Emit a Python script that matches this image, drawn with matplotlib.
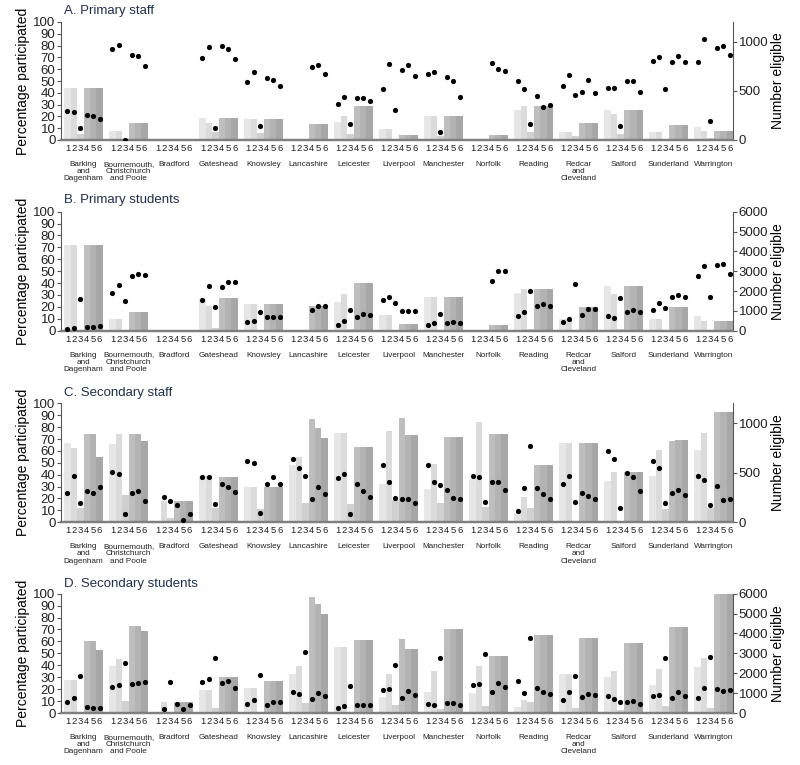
import matplotlib.pyplot as plt
import numpy as np

plt.rcParams['font.family'] = ['Liberation Sans', 'DejaVu Sans']

nan = np.nan

# local authorities and rounds
las = ['Barking\nand\nDagenham', 'Bournemouth,\nChristchurch\nand Poole', 'Bradford',
       'Gateshead', 'Knowsley', 'Lancashire', 'Leicester', 'Liverpool', 'Manchester',
       'Norfolk', 'Reading', 'Redcar\nand\nCleveland', 'Salford', 'Sunderland', 'Warrington']
rounds = ['1', '2', '3', '4', '5', '6']
titles = ['A. Primary staff', 'B. Primary students', 'C. Secondary staff', 'D. Secondary students']

# A. primary staff: percentage participated / number eligible
pct_a = [[44, 44, 5, 44, 44, 44], [8, 8, 0.5, 14, 14, 14], [nan] * 6,
         [19, 14, 7, 19, 19, 19], [18, 18, 6, 18, 18, 18], [nan, nan, nan, 13.5, 13.5, 13.5],
         [15, 20, 5, 28.5, 28.5, 28.5], [9, 9, nan, 4.5, 4.5, 4.5], [20, 20, 3.5, 20, 20, 20],
         [nan, nan, nan, 4.5, 4.5, 4.5], [25.5, 29, 7, 29, 29, 29], [7, 7, 3.5, 14, 14, 14],
         [25.5, 22, 5.5, 25.5, 25.5, 25.5], [7, 7, nan, 12.5, 12.5, 12.5], [11, 7.5, 2, 7.5, 7.5, 7.5]]
elig_a = [[300, 288, 117, 251, 247, 217], [930, 970, 3, 863, 853, 749], [nan] * 6,
          [833, 950, 127, 953, 923, 819], [585, 696, 147, 635, 612, 552], [nan, nan, nan, 742, 763, 676],
          [371, 435, 167, 431, 428, 401], [518, 776, 304, 716, 759, 652], [676, 693, 83, 636, 595, 438],
          [nan, nan, nan, 786, 723, 699], [599, 518, 161, 445, 334, 351], [552, 656, 458, 488, 609, 478],
          [525, 532, 147, 595, 595, 488], [800, 846, 515, 796, 853, 790], [790, 1027, 194, 934, 960, 866]]

# B. primary students
pct_b = [[72, 72, nan, 72, 72, 72], [9.5, 9.5, 0.5, 15.5, 15.5, 15.5], [nan] * 6,
         [27, 20.5, 2, 27.5, 27.5, 27.5], [22.5, 22.5, nan, 22.5, 22.5, 22.5], [nan, nan, nan, 20.5, 20.5, 20.5],
         [24, 30.5, 1.5, 40, 40, 40], [13, 13, nan, 6, 6, 6], [28, 28, nan, 28, 28, 28],
         [nan, nan, nan, 4.5, 4.5, 4.5], [32, 35, 1.5, 35, 35, 35], [9.5, 9.5, nan, 19.5, 19.5, 19.5],
         [37.5, 30.5, 1.5, 37.5, 37.5, 37.5], [10, 10, nan, 19.5, 19.5, 19.5], [12, 8.5, nan, 8.5, 8.5, 8.5]]
elig_b = [[70, 135, 1610, 185, 185, 215], [1900, 2300, 1500, 2760, 2840, 2820], [nan] * 6,
          [1530, 2240, 1210, 2190, 2440, 2440], [440, 500, 940, 670, 670, 670], [nan, nan, nan, 1030, 1240, 1240],
          [300, 490, 1030, 690, 820, 810], [1550, 1680, 1380, 990, 975, 975], [300, 390, 820, 400, 450, 370],
          [nan, nan, nan, 2520, 2990, 2990], [720, 960, 1980, 1240, 1330, 1240], [450, 570, 2340, 770, 1080, 1080],
          [760, 660, 1650, 960, 1060, 940], [1030, 1400, 1160, 1700, 1820, 1710], [2740, 3240, 1710, 3310, 3360, 2840]]

# C. secondary staff
pct_c = [[67, 62.5, 12, 74.5, 74.5, 55], [66, 74, 23, 74.5, 74.5, 68], [nan, 18, 3.5, 18, 18, 18],
         [38.5, 38.5, 12, 38, 38, 38], [30, 30, 11, 30, 30, 30], [48.5, 55, 16, 87, 79, 71],
         [75, 75, 15, 63.5, 63.5, 63.5], [32, 77, 19, 88, 73, 73], [28, 49, 16.5, 71.5, 71.5, 71.5],
         [36, 84, 13, 74, 74, 74], [7.5, 21.5, 12, 48, 48, 48], [67, 67, nan, 67, 67, 67],
         [34.5, 42.5, nan, 42.5, 42.5, 42.5], [39, 61, 11.5, 68.5, 69.5, 69.5], [60.5, 75, 12, 93, 93, 93]]
elig_c = [[297, 470, 197, 317, 300, 353], [510, 490, 83, 300, 313, 213], [nan, 260, 210, 173, 20, 87],
          [457, 460, 183, 390, 357, 303], [623, 597, 97, 387, 457, 387], [643, 550, 470, 240, 357, 290],
          [447, 487, 80, 387, 320, 257], [580, 410, 247, 233, 230, 190], [580, 403, 380, 330, 250, 237],
          [470, 453, 207, 403, 403, 327], [113, 347, 770, 343, 290, 240], [390, 467, 200, 300, 267, 230],
          [723, 637, 143, 493, 453, 317], [623, 550, 190, 297, 330, 273], [470, 430, 170, 367, 227, 237]]

# D. secondary students
pct_d = [[28, 28, 1, 60.5, 60.5, 52.5], [39, 45, 10, 73, 73, 69], [nan, 9.5, nan, 9.5, 9.5, 9.5],
         [19.5, 19.5, 4, 30, 30, 30], [21, 21, nan, 27, 27, 27], [33, 39, 8.5, 97.5, 91.5, 83],
         [55.5, 55.5, nan, 61.5, 61.5, 61.5], [13, 32.5, 6.5, 62, 54, 54], [18, 35, 3.5, 70, 70, 70],
         [17, 39.5, 5.5, 48, 48, 48], [5, 11, 9.5, 65, 65, 65], [32.5, 32.5, 4, 62.5, 62.5, 62.5],
         [30, 35, 2.5, 59, 59, 59], [23.5, 37, 6, 72, 72.5, 72.5], [38.5, 46.5, 4.5, 100, 100, 100]]
elig_d = [[550, 740, 1880, 320, 270, 250], [1310, 1390, 2500, 1470, 1510, 1540], [nan, 220, 1560, 440, 220, 390],
          [1560, 1710, 2780, 1520, 1620, 1270], [470, 640, 1930, 420, 550, 550], [1040, 955, 3070, 720, 1020, 870],
          [270, 335, 1360, 400, 420, 400], [1170, 1220, 2400, 740, 1110, 890], [440, 390, 2780, 500, 520, 420],
          [1390, 1440, 2950, 1070, 1520, 1310], [1620, 990, 3770, 1270, 1060, 970], [670, 1070, 1860, 800, 940, 890],
          [840, 720, 570, 570, 620, 450], [850, 900, 2780, 770, 1040, 850], [740, 1260, 2810, 1190, 1120, 1160]]

right_max = [1200, 6000, 1200, 6000]
right_ticks = [[0, 500, 1000], [0, 1000, 2000, 3000, 4000, 5000, 6000],
               [0, 500, 1000], [0, 1000, 2000, 3000, 4000, 5000, 6000]]

shades = ['#e6e6e6', '#dbdbdb', '#d0d0d0', '#bebebe', '#b3b3b3', '#a7a7a7']
spine_col = '#555555'

# panel positions in pixels (top, bottom) on a 800x765 canvas
panel_px = [(22, 140), (211.7, 330.7), (403.3, 522.3), (593.7, 713)]
title_y = [11, 200, 393, 584]

fig = plt.figure(figsize=(8, 7.65), dpi=100)

pcts = [pct_a, pct_b, pct_c, pct_d]
eligs = [elig_a, elig_b, elig_c, elig_d]
ng = len(las)
nr = len(rounds)

for k in range(4):
    top, bot = panel_px[k]
    ax = fig.add_axes([61 / 800, 1 - bot / 765, 672 / 800, (bot - top) / 765])
    ax2 = ax.twinx()

    pct = np.array(pcts[k], dtype=float)
    elig = np.array(eligs[k], dtype=float)
    xs = np.arange(ng)[:, None] * (nr + 1) + np.arange(nr)[None, :]

    for r in range(nr):
        ax.bar(xs[:, r], pct[:, r], width=1.0, color=shades[r], linewidth=0)
    ax2.scatter(xs.ravel(), elig.ravel(), s=14, color='black', zorder=5, linewidths=0)

    ax.set_xlim(-1, ng * (nr + 1) - 1.5)
    ax.set_ylim(0, 100)
    ax.set_yticks(range(0, 101, 10))
    ax2.set_ylim(0, right_max[k])
    ax2.set_yticks(right_ticks[k])

    ax.set_xticks(xs.ravel())
    ax.set_xticklabels(rounds * ng, fontsize=6.8, color='#222222')
    ax.tick_params(axis='x', length=0, pad=3)
    ax.tick_params(axis='y', labelsize=9.5, length=3, width=0.8, color=spine_col, pad=1, colors='#222222')
    ax2.tick_params(axis='y', labelsize=9.5, length=3, width=0.8, color=spine_col, pad=1, colors='#222222')

    for a in (ax, ax2):
        a.spines['top'].set_visible(False)
        a.spines['left'].set_color(spine_col)
        a.spines['right'].set_color(spine_col)
        a.spines['bottom'].set_color('#7f7f7f')
        a.spines['bottom'].set_linewidth(1.6)
    ax2.spines['left'].set_visible(False)
    ax.spines['right'].set_visible(False)

    ax.set_ylabel('Percentage participated', fontsize=10, labelpad=2)
    ax2.set_ylabel('Number eligible', fontsize=10, labelpad=2)

    for g in range(ng):
        ax.annotate(las[g], xy=(g * (nr + 1) + 2.5, 0), xycoords=('data', 'axes fraction'),
                    xytext=(0, -15), textcoords='offset points', ha='center', va='top',
                    fontsize=5.9, linespacing=1.05, color='#222222')

    fig.text(64 / 800, 1 - title_y[k] / 765, titles[k], fontsize=9.5, color='#1f2f4f',
             ha='left', va='center')

fig.savefig('out.png', dpi=100)
